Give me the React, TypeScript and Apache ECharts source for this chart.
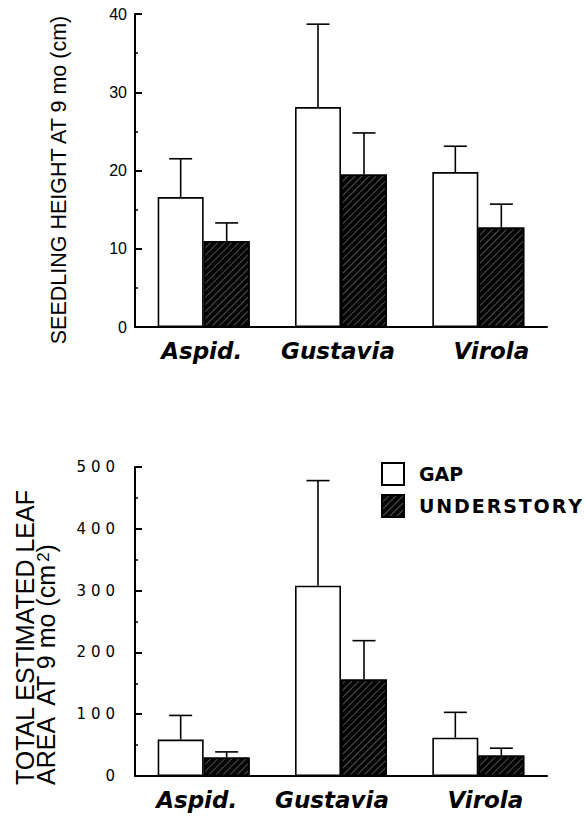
import React, { useEffect, useRef } from "react";
import * as echarts from "echarts";

const categories = ["Aspid.", "Gustavia", "Virola"];

// Top panel: seedling height at 9 mo (cm)
const heightTicks = [0, 10, 20, 30, 40];
const heightGap = [16.6, 28.1, 19.8];
const heightGapErr = [21.5, 38.7, 23.1];
const heightUnder = [11.0, 19.5, 12.7];
const heightUnderErr = [13.3, 24.8, 15.7];

// Bottom panel: total estimated leaf area at 9 mo (cm2)
const areaTicks = [0, 100, 200, 300, 400, 500];
const areaGap = [59, 308, 62];
const areaGapErr = [98, 478, 103];
const areaUnder = [30, 156, 33];
const areaUnderErr = [39, 219, 45];

const legendNames = ["GAP", "UNDERSTORY"];

const BAR_W = 46;
const CAP = 23;
const SANS = "'Liberation Sans', Arial, Helvetica, sans-serif";
const WIDE = "'DejaVu Sans', sans-serif";

const hatch = {
  symbol: "rect",
  symbolSize: 1,
  color: "rgba(170,170,170,0.45)",
  dashArrayX: [1, 0],
  dashArrayY: [0.7, 3.6],
  rotation: -Math.PI / 4,
};

function errRender(sign: number) {
  return (params: any, api: any) => {
    const c0 = api.coord([api.value(0), api.value(1)]);
    const c1 = api.coord([api.value(0), api.value(2)]);
    const x = c0[0] + (sign * BAR_W) / 2;
    return {
      type: "group",
      children: [
        { type: "line", shape: { x1: x, y1: c0[1], x2: x, y2: c1[1] }, style: { stroke: "#000", lineWidth: 1.6 } },
        { type: "line", shape: { x1: x - CAP / 2, y1: c1[1], x2: x + CAP / 2, y2: c1[1] }, style: { stroke: "#000", lineWidth: 1.6 } },
      ],
    };
  };
}

function catData(shifts: number[]) {
  return categories.map((c, i) => {
    const s = shifts[i];
    const pad = s >= 0 ? [0, 0, 0, 2 * s] : [0, -2 * s, 0, 0];
    return { value: c, textStyle: { padding: pad } };
  });
}

export default function App() {
  const ref = useRef<HTMLDivElement>(null);
  useEffect(() => {
    if (!ref.current) return;
    const chart = echarts.init(ref.current, null, { renderer: "svg" });
    const xAxisCommon = {
      type: "category",
      axisLine: { lineStyle: { color: "#000", width: 2 } },
      axisTick: { show: false },
      axisLabel: {
        interval: 0,
        margin: 12,
        color: "#000",
        fontFamily: WIDE,
        fontWeight: "bold",
        fontStyle: "italic",
        fontSize: 23,
      },
    };
    const yAxisCommon = {
      type: "value",
      splitLine: { show: false },
      axisLine: { show: true, lineStyle: { color: "#000", width: 2 } },
      axisTick: { show: true, inside: true, length: 7, lineStyle: { color: "#000", width: 2 } },
      minorTick: { show: true, splitNumber: 2, length: 3, lineStyle: { color: "#000", width: 1.5 } },
    };
    const option: any = {
      animation: false,
      backgroundColor: "#fff",
      grid: [
        { left: 135, top: 14, width: 412, height: 313 },
        { left: 135, top: 467, width: 412, height: 309 },
      ],
      xAxis: [
        { ...xAxisCommon, gridIndex: 0, data: catData([-2, -3, 13]) },
        { ...xAxisCommon, gridIndex: 1, data: catData([-7, -9, 7]) },
      ],
      yAxis: [
        {
          ...yAxisCommon,
          gridIndex: 0,
          min: heightTicks[0],
          max: heightTicks[heightTicks.length - 1],
          interval: heightTicks[1] - heightTicks[0],
          axisLabel: { margin: 8, color: "#000", fontFamily: SANS, fontSize: 16 },
        },
        {
          ...yAxisCommon,
          gridIndex: 1,
          min: areaTicks[0],
          max: areaTicks[areaTicks.length - 1],
          interval: areaTicks[1] - areaTicks[0],
          axisLabel: {
            margin: 20,
            color: "#000",
            fontFamily: WIDE,
            fontSize: 15,
            formatter: (v: number) => String(v).split("").join("\u2004"),
          },
        },
      ],
      legend: {
        data: legendNames,
        left: 381,
        top: 462,
        orient: "vertical",
        padding: 0,
        itemWidth: 22,
        itemHeight: 22,
        itemGap: 8,
        icon: "rect",
        formatter: (n: string) => (n === "UNDERSTORY" ? n.split("").join("\u200A") : n),
        textStyle: {
          color: "#000",
          fontFamily: WIDE,
          fontWeight: "bold",
          fontSize: 19,
          padding: [0, 0, 0, 10],
        },
      },
      series: [
        {
          name: legendNames[0],
          type: "bar",
          xAxisIndex: 0,
          yAxisIndex: 0,
          barWidth: BAR_W,
          barGap: "0%",
          data: heightGap,
          itemStyle: { color: "#fff", borderColor: "#000", borderWidth: 1.6 },
        },
        {
          name: legendNames[1],
          type: "bar",
          xAxisIndex: 0,
          yAxisIndex: 0,
          barWidth: BAR_W,
          barGap: "0%",
          data: heightUnder,
          itemStyle: { color: "#030303", borderColor: "#000", borderWidth: 1.6, decal: hatch },
        },
        {
          name: legendNames[0],
          type: "bar",
          xAxisIndex: 1,
          yAxisIndex: 1,
          barWidth: BAR_W,
          barGap: "0%",
          data: areaGap,
          itemStyle: { color: "#fff", borderColor: "#000", borderWidth: 1.6 },
        },
        {
          name: legendNames[1],
          type: "bar",
          xAxisIndex: 1,
          yAxisIndex: 1,
          barWidth: BAR_W,
          barGap: "0%",
          data: areaUnder,
          itemStyle: { color: "#030303", borderColor: "#000", borderWidth: 1.6, decal: hatch },
        },
        {
          type: "custom",
          xAxisIndex: 0,
          yAxisIndex: 0,
          renderItem: errRender(-1),
          encode: { x: 0, y: [1, 2] },
          data: heightGap.map((v, i) => [i, v, heightGapErr[i]]),
          silent: true,
        },
        {
          type: "custom",
          xAxisIndex: 0,
          yAxisIndex: 0,
          renderItem: errRender(1),
          encode: { x: 0, y: [1, 2] },
          data: heightUnder.map((v, i) => [i, v, heightUnderErr[i]]),
          silent: true,
        },
        {
          type: "custom",
          xAxisIndex: 1,
          yAxisIndex: 1,
          renderItem: errRender(-1),
          encode: { x: 0, y: [1, 2] },
          data: areaGap.map((v, i) => [i, v, areaGapErr[i]]),
          silent: true,
        },
        {
          type: "custom",
          xAxisIndex: 1,
          yAxisIndex: 1,
          renderItem: errRender(1),
          encode: { x: 0, y: [1, 2] },
          data: areaUnder.map((v, i) => [i, v, areaUnderErr[i]]),
          silent: true,
        },
      ],
      graphic: [
        {
          type: "text",
          x: 59,
          y: 180,
          rotation: Math.PI / 2,
          style: {
            text: "SEEDLING HEIGHT AT 9 mo (cm)",
            font: `21.5px ${SANS}`,
            fill: "#000",
            textAlign: "center",
            textVerticalAlign: "middle",
          },
        },
        {
          type: "text",
          x: 35,
          y: 785,
          rotation: Math.PI / 2,
          style: {
            text: "{a|TOTAL ESTIMATED LEAF}\n{a|AREA  AT 9 mo (cm}{s|2}{a|)}",
            fill: "#000",
            textAlign: "left",
            textVerticalAlign: "middle",
            rich: {
              a: { fontFamily: SANS, fontSize: 25, lineHeight: 21, fill: "#000" },
              s: { fontFamily: SANS, fontSize: 17, lineHeight: 21, fill: "#000", verticalAlign: "top" },
            },
          },
        },
      ],
    };
    chart.setOption(option);
    return () => chart.dispose();
  }, []);
  return (
    <div
      ref={ref}
      style={{ position: "fixed", left: 0, top: 0, width: 585, height: 819, background: "#fff" }}
    />
  );
}
